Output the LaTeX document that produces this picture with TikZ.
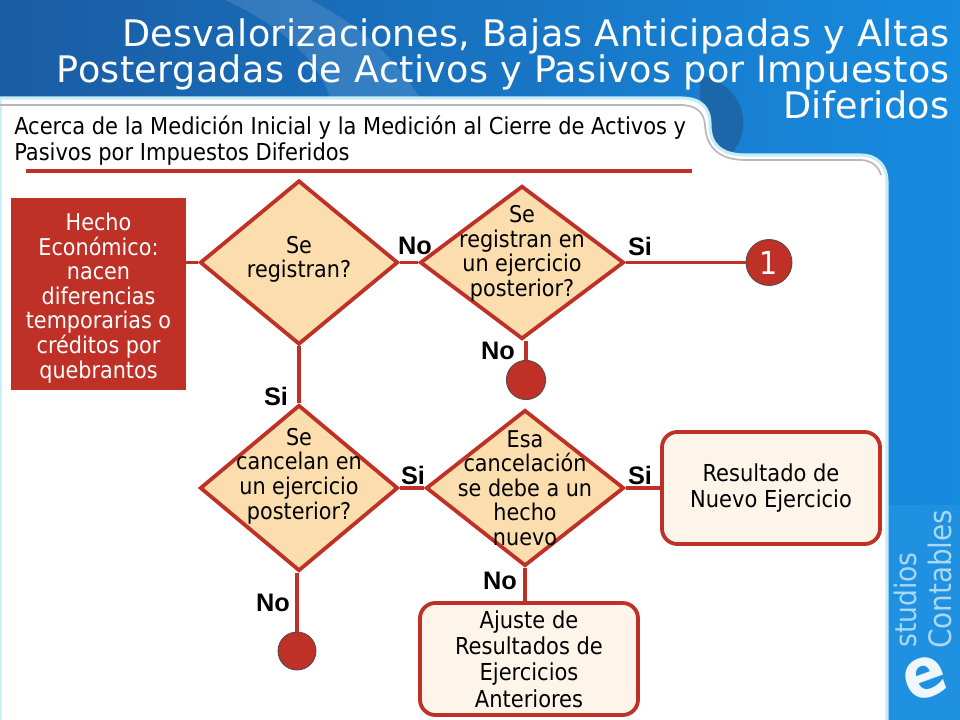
\documentclass[tikz,border=0pt]{standalone}
\usepackage{fontspec}
\usepackage{xcolor}
\setmainfont{DejaVu Sans Condensed}
\newfontfamily\titlefont[LetterSpace=1]{DejaVu Sans}
\newfontfamily\tagfont{Liberation Sans}
\usetikzlibrary{shapes,positioning,shapes.geometric}
\definecolor{brick}{HTML}{BF3026}
\definecolor{sand}{HTML}{FBDDAE}
\definecolor{cream}{HTML}{FDF5EA}
\definecolor{deepblue}{HTML}{1A5CA3}
\definecolor{midblue}{HTML}{1F72BC}
\definecolor{skyblue}{HTML}{178BE0}
\definecolor{logoblue}{HTML}{A9D8F5}
\definecolor{halo}{HTML}{C6ECF8}

\begin{document}
\begin{tikzpicture}[
	x=0.025cm, y=-0.025cm,
	decision/.style={diamond, draw=brick, fill=sand, line width=2.7pt, inner sep=0pt, align=center},
	decisiontext/.style={align=center, inner sep=0pt, font=\fontsize{16.4}{17.5}\selectfont},
	endpoint/.style={circle, draw=black!70, fill=brick, line width=0.6pt, inner sep=0pt, text=white},
	outcome/.style={rectangle, rounded corners=11pt, draw=brick, fill=cream, line width=2.7pt, align=center,
		minimum width=5.45cm, minimum height=2.8cm, inner sep=0pt, font=\fontsize{16.6}{18.8}\selectfont},
	tag/.style={font=\tagfont\bfseries\fontsize{18}{18}\selectfont, inner sep=0pt},
	wire/.style={draw=brick, line width=2.7pt}
	]
	\useasboundingbox (0,0) rectangle (960,720);

	% Fondo
	\fill[left color=deepblue, middle color=midblue, right color=skyblue] (0,0) rectangle (960,720);
	\fill[skyblue!96!white] (887,505) rectangle (960,720);
	\fill[white, opacity=0.12] (225,0) .. controls (290,30) and (320,65) .. (330,98) -- (420,98) .. controls (390,50) and (350,20) .. (310,0) -- cycle;
	\fill[midblue!90!black] (700,75) .. controls (745,85) and (755,130) .. (730,155) -- (700,155) -- cycle;
	% Panel
	\path[fill=white, draw=halo, line width=2.2pt] (0,98) -- (680,98) .. controls (702,98) and (710,108) .. (710,125)
		.. controls (710,145) and (722,155) .. (745,155) -- (860,155) .. controls (878,155) and (887,166) .. (887,182) -- (887,722) -- (0,722) -- cycle;
	\draw[black!28, line width=1.2pt] (0,105) -- (680,105) .. controls (696,105) and (704,112) .. (705,125)
		.. controls (706,148) and (720,160) .. (745,160) -- (860,160) .. controls (870,160) and (878,165) .. (881,175);

	% Titulo
	\node[anchor=north east, align=right, inner sep=0pt, text=white, font=\titlefont\fontsize{26}{25.8}\selectfont] (title) at (950,18)
		{Desvalorizaciones, Bajas Anticipadas y Altas\\Postergadas de Activos y Pasivos por Impuestos\\Diferidos};
	\node[anchor=north west, align=left, inner sep=0pt, font=\fontsize{16.6}{18.5}\selectfont] (subtitle) at (14,116)
		{Acerca de la Medición Inicial y la Medición al Cierre de Activos y\\Pasivos por Impuestos Diferidos};
	\coordinate (ruleL) at (26,171);
	\coordinate (ruleR) at (692,171);
	\draw[wire, line width=2.9pt] (ruleL) -- (ruleR);

	% Nodos
	\node[rectangle, fill=brick, minimum width=4.375cm, minimum height=4.8cm, inner sep=0pt,
		label={[decisiontext, text=white, yshift=-2.8pt]center:Hecho\\Económico:\\nacen\\diferencias\\temporarias o\\créditos por\\quebrantos}] (start) at (98.5,294) {};
	\node[decision, minimum width=4.95cm, minimum height=4.1cm, label={[decisiontext, yshift=2.2pt]center:Se\\registran?}] (q1) at (299,262.5) {};
	\node[decision, minimum width=5.1cm, minimum height=3.83cm, label={[decisiontext, yshift=6.4pt]center:Se\\registran en\\un ejercicio\\posterior?}] (q2) at (522,262.5) {};
	\node[decision, minimum width=4.95cm, minimum height=4.15cm, label={[decisiontext, yshift=8.5pt]center:Se\\cancelan en\\un ejercicio\\posterior?}] (q3) at (299,488) {};
	\node[decision, minimum width=4.95cm, minimum height=3.9cm, label={[decisiontext]center:Esa\\cancelación\\se debe a un\\hecho\\nuevo}] (q4) at (525,488) {};
	\node[endpoint, minimum size=1.15cm, font=\fontsize{22.5}{22.5}\selectfont] (one) at (769,262.5) {1};
	\node[endpoint, minimum size=0.98cm] (stopA) at (526,380) {};
	\node[endpoint, minimum size=0.95cm] (stopB) at (297,651) {};
	\node[outcome] (nuevo) at (771,488) {Resultado de\\Nuevo Ejercicio};
	\node[outcome] (ajuste) at (529,659) {Ajuste de\\Resultados de\\Ejercicios\\Anteriores};

	% Lineas
	\draw[wire] (start.east |- q1) -- (q1.west);
	\draw[wire] (q1.east) -- (q2.west);
	\draw[wire] (q2.east) -- (one.west);
	\draw[wire] (q2.south -| stopA) -- (stopA.north);
	\draw[wire] (q1.south) -- (q3.north);
	\draw[wire] (q3.east) -- (q4.west);
	\draw[wire] (q3.south -| stopB) -- (stopB.north);
	\draw[wire] (q4.east) -- (nuevo.west);
	\draw[wire] (q4.south) -- (ajuste.north -| q4);

	% Etiquetas
	\node[tag] (tagNoA) at (415,246) {No};
	\node[tag] (tagSiA) at (640,246) {Si};
	\node[tag] (tagNoB) at (498,351) {No};
	\node[tag] (tagSiB) at (276,396) {Si};
	\node[tag] (tagSiC) at (413,475) {Si};
	\node[tag] (tagSiD) at (640,475) {Si};
	\node[tag] (tagNoC) at (500,581) {No};
	\node[tag] (tagNoD) at (273,603) {No};

	% Logo
	\node[rotate=90, anchor=west, text=logoblue, inner sep=0pt, font=\fontsize{21}{21}\selectfont] (logoA) at (905,648) {studios};
	\node[rotate=90, anchor=west, text=logoblue, inner sep=0pt, font=\fontsize{22}{22}\selectfont] (logoB) at (940,649) {Contables};
	\node[text=white!80!logoblue, inner sep=0pt, rotate=20, font=\bfseries\fontsize{50}{50}\selectfont] (logoE) at (925,678) {e};
\end{tikzpicture}
\end{document}
